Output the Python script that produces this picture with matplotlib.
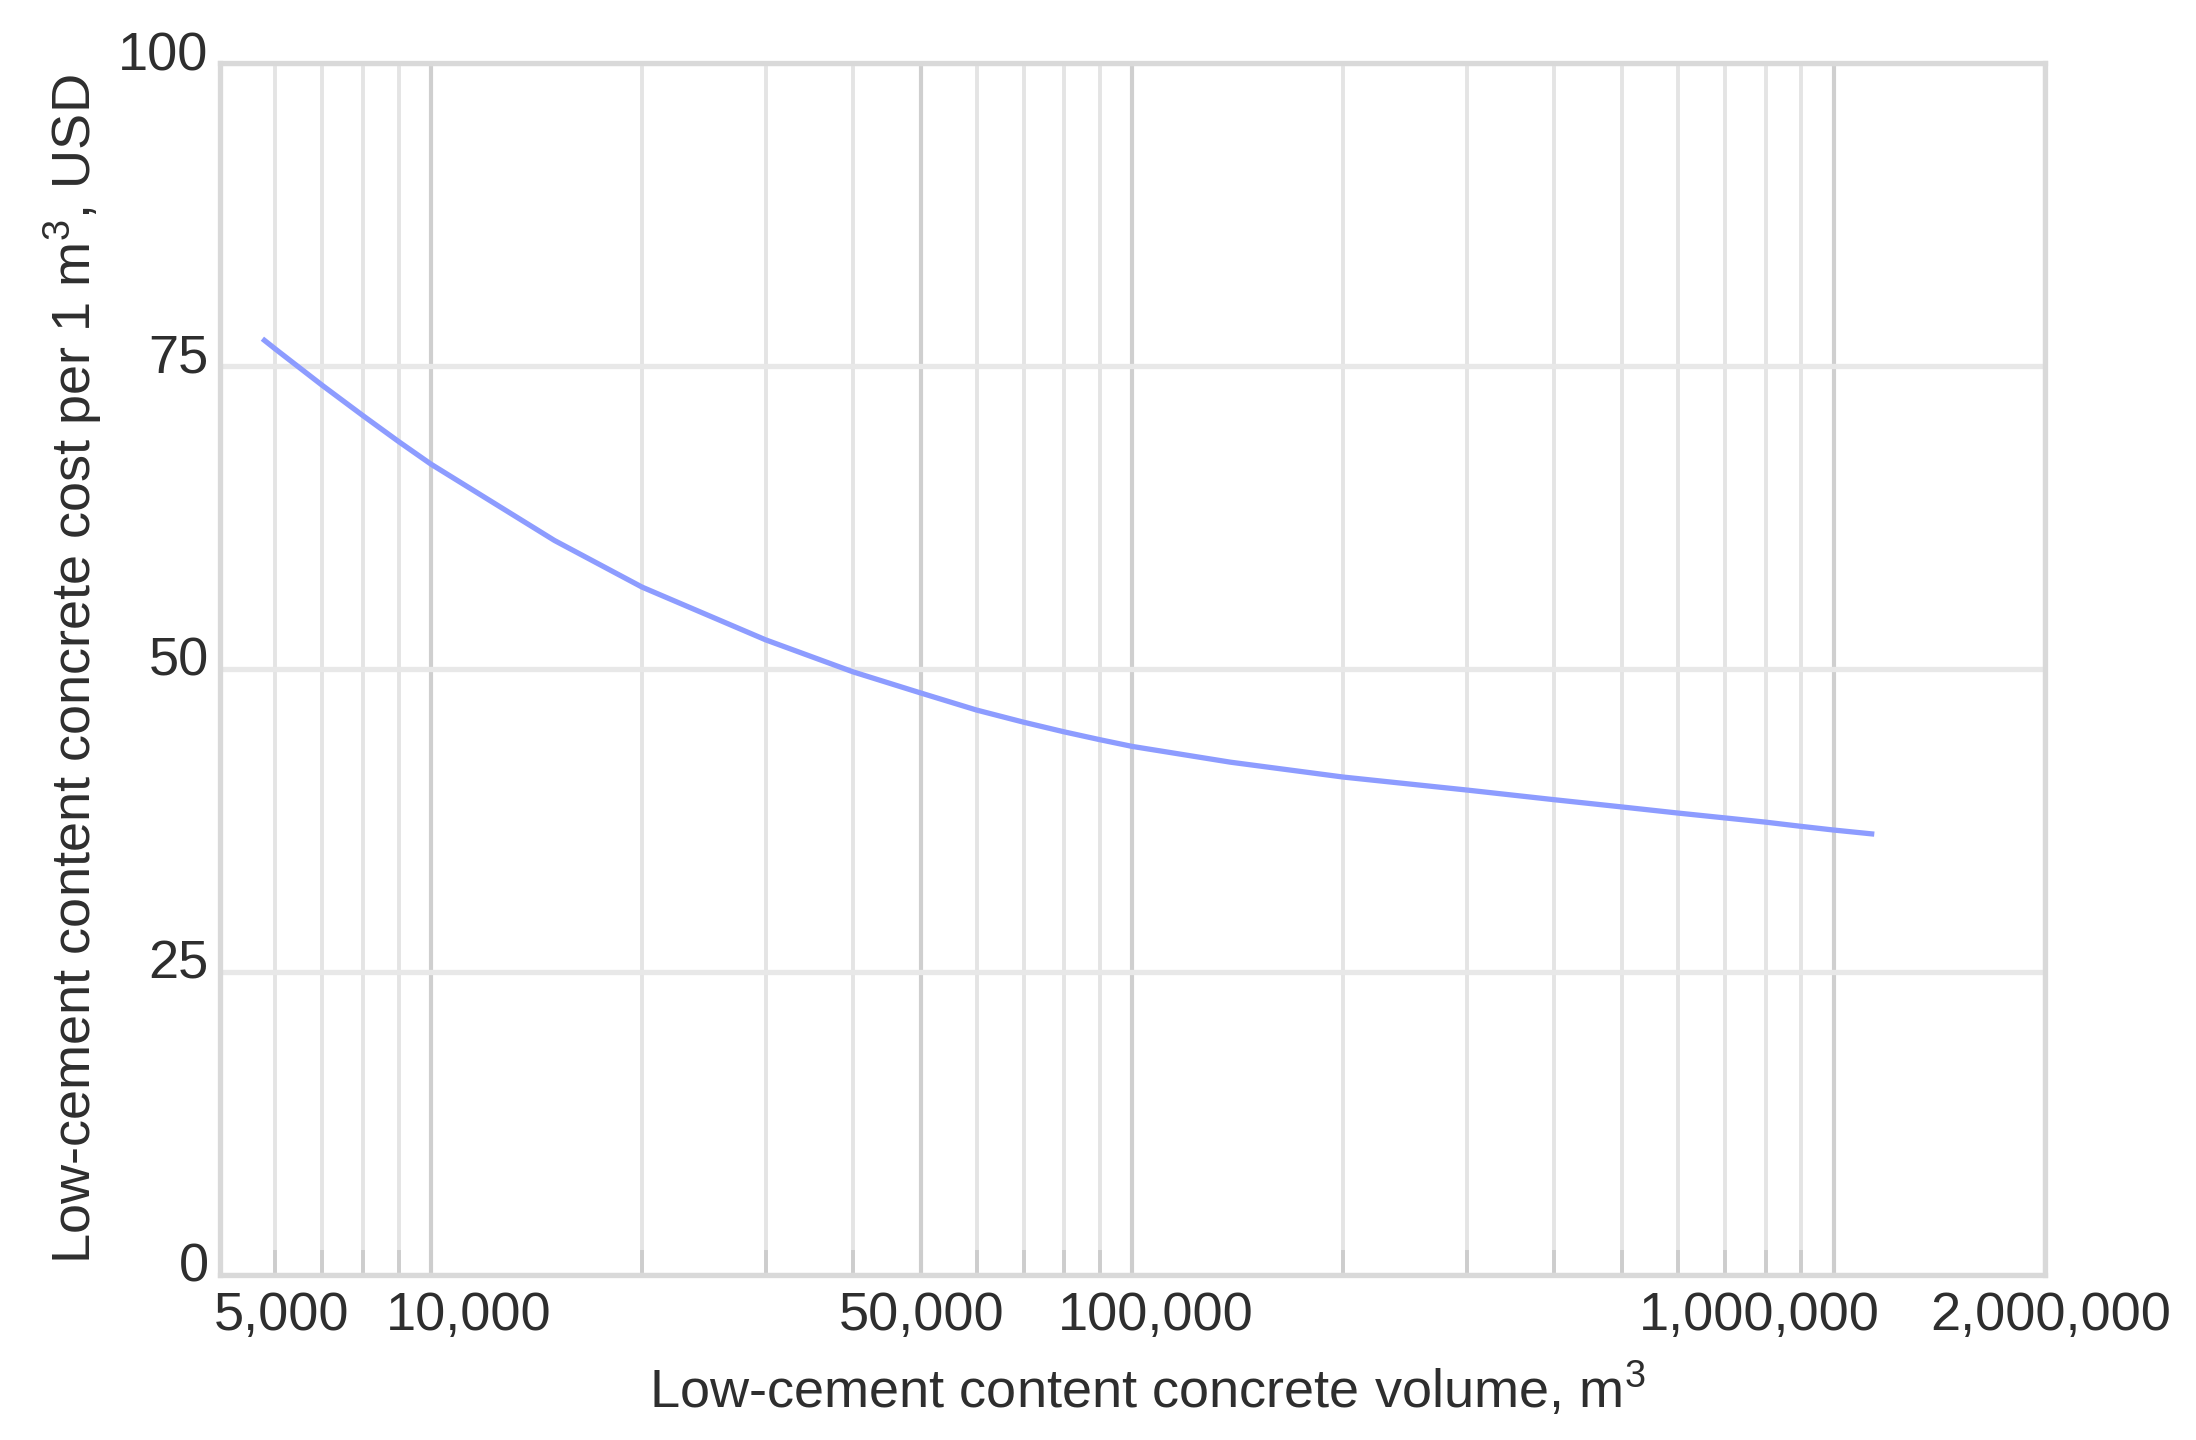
import matplotlib
matplotlib.use('Agg')
import matplotlib.pyplot as plt
from matplotlib.transforms import ScaledTranslation
from matplotlib.ticker import FixedLocator, NullFormatter

# ---- data ----
volume = [5750, 6000, 7000, 8000, 9000, 10000, 15000, 20000, 30000, 40000, 50000,
          60000, 70000, 80000, 90000, 100000, 138000, 200000, 300000, 400000,
          500000, 600000, 700000, 800000, 900000, 1000000, 1143000]
cost = [77.25, 76.4, 73.4, 70.9, 68.75, 66.9, 60.6, 56.75, 52.4, 49.75, 48.0,
        46.6, 45.6, 44.8, 44.15, 43.6, 42.3, 41.07, 40.0, 39.2,
        38.6, 38.1, 37.7, 37.35, 37.0, 36.7, 36.36]

x_major = [5000, 10000, 50000, 100000, 1000000, 2000000]
x_major_labels = ['5,000', '10,000', '50,000', '100,000', '1,000,000', '2,000,000']
x_label_shift_pt = [22.3, 13.6, 0.0, 8.5, -26.7, 2.2]
x_minor = [6000, 7000, 8000, 9000, 20000, 30000, 40000, 60000, 70000, 80000, 90000,
           200000, 300000, 400000, 500000, 600000, 700000, 800000, 900000]
y_ticks = [0, 25, 50, 75, 100]
y_tick_labels = ['0', '25', '50', '75', '100']

plt.rcParams['font.family'] = ['Liberation Sans', 'DejaVu Sans']
plt.rcParams['mathtext.fontset'] = 'custom'
plt.rcParams['mathtext.rm'] = 'Liberation Sans'
plt.rcParams['mathtext.it'] = 'Liberation Sans'

FS = 19.5
TXT = '#2e2e2e'

fig = plt.figure(figsize=(10.98, 7.2), dpi=200)
ax = fig.add_axes([0.1001, 0.1148, 0.8310, 0.8414])

ax.set_xscale('log')
ax.set_xlim(5000, 2000000)
ax.set_ylim(0, 100)

# grid
ax.xaxis.set_major_locator(FixedLocator(x_major))
ax.xaxis.set_minor_locator(FixedLocator(x_minor))
ax.xaxis.set_minor_formatter(NullFormatter())
ax.set_xticklabels(x_major_labels)
ax.set_yticks(y_ticks)
ax.set_yticklabels(y_tick_labels)

ax.grid(True, which='major', axis='x', color='#cfcfcf', lw=1.5, zorder=0)
ax.grid(True, which='minor', axis='x', color='#e4e4e4', lw=1.4, zorder=0)
ax.grid(True, which='major', axis='y', color='#e8e8e8', lw=1.9, zorder=0)
ax.set_axisbelow(True)

for s in ax.spines.values():
    s.set_color('#d9d9d9')
    s.set_linewidth(1.9)

ax.tick_params(axis='x', which='both', direction='in', length=9, width=1.4,
               color='#cdcdcd', labelsize=FS, labelcolor=TXT, pad=6)
ax.tick_params(axis='y', which='both', length=0, labelsize=FS, labelcolor=TXT, pad=4)

# curve
ax.plot(volume, cost, color='#8d9cff', lw=1.9, solid_joinstyle='round',
        solid_capstyle='butt', zorder=3)

# shift tick labels
for lab, dx in zip(ax.get_xticklabels(), x_label_shift_pt):
    lab.set_transform(lab.get_transform() + ScaledTranslation(dx / 72, 0, fig.dpi_scale_trans))
for lab in ax.get_yticklabels():
    lab.set_transform(lab.get_transform() + ScaledTranslation(0, 4.5 / 72, fig.dpi_scale_trans))

ax.set_xlabel('Low-cement content concrete volume, m$^3$', fontsize=FS, color=TXT)
ax.xaxis.set_label_coords(0.508, -0.095)
ax.xaxis.label.set_va('center')
ax.set_ylabel('Low-cement content concrete cost per 1 m$^3$, USD', fontsize=FS, color=TXT)
ax.yaxis.set_label_coords(-0.0806, 0.5)
ax.yaxis.label.set_va('center')

fig.savefig('out.png', dpi=200, facecolor='white')
